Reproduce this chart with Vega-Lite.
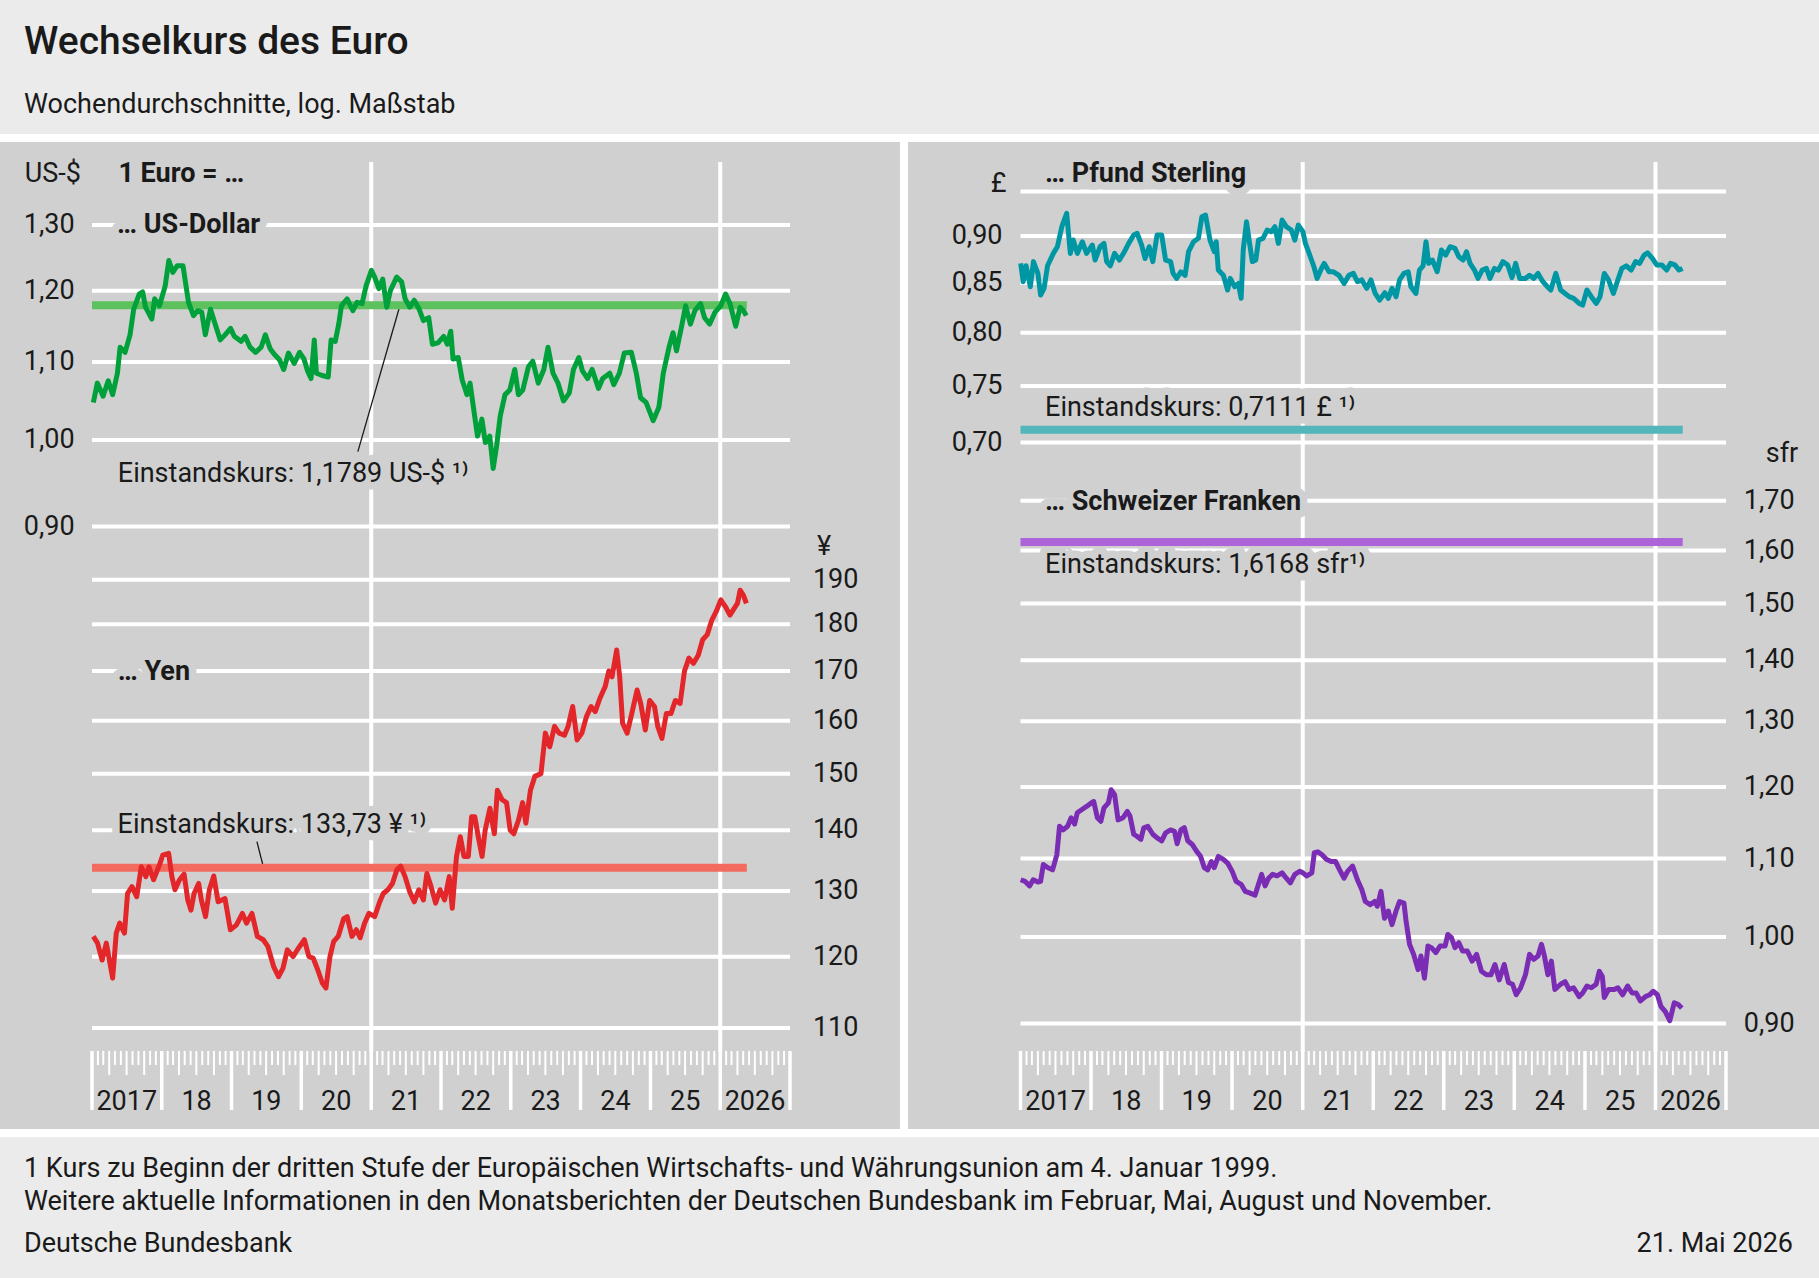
{
  "$schema": "https://vega.github.io/schema/vega-lite/v6.json",
  "background": "white",
  "padding": 0,
  "spacing": 8,
  "config": {"font": "Roboto", "view": {"stroke": null}},
  "datasets": {
    "usd": [
      {"datum": "2017-01-08", "kurs": 1.047}, {"datum": "2017-01-29", "kurs": 1.072}, {"datum": "2017-02-28", "kurs": 1.055}, {"datum": "2017-03-27", "kurs": 1.075},
      {"datum": "2017-04-19", "kurs": 1.057}, {"datum": "2017-05-14", "kurs": 1.085}, {"datum": "2017-05-28", "kurs": 1.12}, {"datum": "2017-06-23", "kurs": 1.113},
      {"datum": "2017-07-19", "kurs": 1.137}, {"datum": "2017-08-07", "kurs": 1.173}, {"datum": "2017-09-05", "kurs": 1.195}, {"datum": "2017-09-23", "kurs": 1.198},
      {"datum": "2017-10-08", "kurs": 1.176}, {"datum": "2017-11-10", "kurs": 1.159}, {"datum": "2017-11-25", "kurs": 1.188}, {"datum": "2017-12-20", "kurs": 1.178},
      {"datum": "2018-01-19", "kurs": 1.207}, {"datum": "2018-02-07", "kurs": 1.245}, {"datum": "2018-02-28", "kurs": 1.227}, {"datum": "2018-03-23", "kurs": 1.237},
      {"datum": "2018-04-22", "kurs": 1.237}, {"datum": "2018-05-21", "kurs": 1.183}, {"datum": "2018-06-16", "kurs": 1.164}, {"datum": "2018-07-08", "kurs": 1.171},
      {"datum": "2018-07-29", "kurs": 1.169}, {"datum": "2018-08-17", "kurs": 1.137}, {"datum": "2018-09-13", "kurs": 1.173}, {"datum": "2018-10-11", "kurs": 1.149},
      {"datum": "2018-11-03", "kurs": 1.13}, {"datum": "2018-11-28", "kurs": 1.137}, {"datum": "2018-12-27", "kurs": 1.146}, {"datum": "2019-01-15", "kurs": 1.135},
      {"datum": "2019-02-21", "kurs": 1.128}, {"datum": "2019-03-13", "kurs": 1.135}, {"datum": "2019-04-08", "kurs": 1.12}, {"datum": "2019-05-07", "kurs": 1.113},
      {"datum": "2019-06-05", "kurs": 1.12}, {"datum": "2019-06-27", "kurs": 1.137}, {"datum": "2019-07-22", "kurs": 1.118}, {"datum": "2019-08-14", "kurs": 1.11},
      {"datum": "2019-09-09", "kurs": 1.103}, {"datum": "2019-10-01", "kurs": 1.09}, {"datum": "2019-10-26", "kurs": 1.112}, {"datum": "2019-11-25", "kurs": 1.098},
      {"datum": "2019-12-23", "kurs": 1.113}, {"datum": "2020-01-15", "kurs": 1.104}, {"datum": "2020-02-03", "kurs": 1.088}, {"datum": "2020-02-21", "kurs": 1.078},
      {"datum": "2020-03-09", "kurs": 1.13}, {"datum": "2020-03-20", "kurs": 1.085}, {"datum": "2020-04-19", "kurs": 1.082}, {"datum": "2020-05-21", "kurs": 1.08},
      {"datum": "2020-06-05", "kurs": 1.13}, {"datum": "2020-06-27", "kurs": 1.128}, {"datum": "2020-07-15", "kurs": 1.152}, {"datum": "2020-07-29", "kurs": 1.178},
      {"datum": "2020-08-28", "kurs": 1.188}, {"datum": "2020-09-27", "kurs": 1.171}, {"datum": "2020-10-19", "kurs": 1.183}, {"datum": "2020-11-14", "kurs": 1.181},
      {"datum": "2020-12-05", "kurs": 1.207}, {"datum": "2021-01-02", "kurs": 1.23}, {"datum": "2021-01-19", "kurs": 1.22}, {"datum": "2021-02-10", "kurs": 1.203},
      {"datum": "2021-03-02", "kurs": 1.217}, {"datum": "2021-03-23", "kurs": 1.176}, {"datum": "2021-04-11", "kurs": 1.2}, {"datum": "2021-05-14", "kurs": 1.22},
      {"datum": "2021-06-09", "kurs": 1.213}, {"datum": "2021-06-27", "kurs": 1.188}, {"datum": "2021-07-22", "kurs": 1.176}, {"datum": "2021-08-14", "kurs": 1.186},
      {"datum": "2021-09-09", "kurs": 1.173}, {"datum": "2021-10-01", "kurs": 1.157}, {"datum": "2021-10-29", "kurs": 1.161}, {"datum": "2021-11-17", "kurs": 1.124},
      {"datum": "2021-12-16", "kurs": 1.126}, {"datum": "2022-01-15", "kurs": 1.135}, {"datum": "2022-02-03", "kurs": 1.124}, {"datum": "2022-02-21", "kurs": 1.142},
      {"datum": "2022-03-05", "kurs": 1.104}, {"datum": "2022-04-01", "kurs": 1.106}, {"datum": "2022-04-22", "kurs": 1.076}, {"datum": "2022-05-17", "kurs": 1.057},
      {"datum": "2022-06-02", "kurs": 1.072}, {"datum": "2022-06-16", "kurs": 1.047}, {"datum": "2022-07-11", "kurs": 1.005}, {"datum": "2022-08-03", "kurs": 1.026},
      {"datum": "2022-08-21", "kurs": 0.997}, {"datum": "2022-09-13", "kurs": 1.005}, {"datum": "2022-10-01", "kurs": 0.966}, {"datum": "2022-10-19", "kurs": 0.993},
      {"datum": "2022-11-07", "kurs": 1.03}, {"datum": "2022-12-02", "kurs": 1.057}, {"datum": "2022-12-27", "kurs": 1.063}, {"datum": "2023-01-22", "kurs": 1.09},
      {"datum": "2023-02-10", "kurs": 1.057}, {"datum": "2023-03-05", "kurs": 1.063}, {"datum": "2023-04-04", "kurs": 1.094}, {"datum": "2023-04-26", "kurs": 1.101},
      {"datum": "2023-05-25", "kurs": 1.072}, {"datum": "2023-06-23", "kurs": 1.09}, {"datum": "2023-07-15", "kurs": 1.12}, {"datum": "2023-08-10", "kurs": 1.085},
      {"datum": "2023-09-05", "kurs": 1.072}, {"datum": "2023-10-04", "kurs": 1.049}, {"datum": "2023-11-03", "kurs": 1.059}, {"datum": "2023-11-25", "kurs": 1.09},
      {"datum": "2023-12-23", "kurs": 1.106}, {"datum": "2024-01-11", "kurs": 1.088}, {"datum": "2024-02-07", "kurs": 1.078}, {"datum": "2024-03-02", "kurs": 1.09},
      {"datum": "2024-04-04", "kurs": 1.065}, {"datum": "2024-04-26", "kurs": 1.078}, {"datum": "2024-06-02", "kurs": 1.085}, {"datum": "2024-06-23", "kurs": 1.07},
      {"datum": "2024-07-22", "kurs": 1.085}, {"datum": "2024-08-17", "kurs": 1.112}, {"datum": "2024-09-23", "kurs": 1.113}, {"datum": "2024-10-19", "kurs": 1.085},
      {"datum": "2024-11-10", "kurs": 1.053}, {"datum": "2024-12-09", "kurs": 1.047}, {"datum": "2025-01-15", "kurs": 1.024}, {"datum": "2025-02-14", "kurs": 1.041},
      {"datum": "2025-03-09", "kurs": 1.085}, {"datum": "2025-04-08", "kurs": 1.12}, {"datum": "2025-04-29", "kurs": 1.14}, {"datum": "2025-05-17", "kurs": 1.115},
      {"datum": "2025-06-13", "kurs": 1.149}, {"datum": "2025-07-04", "kurs": 1.178}, {"datum": "2025-07-29", "kurs": 1.152}, {"datum": "2025-08-21", "kurs": 1.171},
      {"datum": "2025-09-20", "kurs": 1.181}, {"datum": "2025-10-11", "kurs": 1.161}, {"datum": "2025-11-07", "kurs": 1.152}, {"datum": "2025-12-05", "kurs": 1.169},
      {"datum": "2026-01-04", "kurs": 1.178}, {"datum": "2026-01-29", "kurs": 1.195}, {"datum": "2026-02-21", "kurs": 1.181}, {"datum": "2026-03-23", "kurs": 1.149},
      {"datum": "2026-04-15", "kurs": 1.176}, {"datum": "2026-05-03", "kurs": 1.171}, {"datum": "2026-05-17", "kurs": 1.164}
    ],
    "jpy": [
      {"datum": "2017-01-08", "kurs": 123.0}, {"datum": "2017-01-30", "kurs": 122.0}, {"datum": "2017-02-23", "kurs": 119.5}, {"datum": "2017-03-17", "kurs": 122.0},
      {"datum": "2017-04-19", "kurs": 116.9}, {"datum": "2017-05-08", "kurs": 123.5}, {"datum": "2017-05-26", "kurs": 125.0}, {"datum": "2017-06-20", "kurs": 123.5},
      {"datum": "2017-07-06", "kurs": 129.6}, {"datum": "2017-07-29", "kurs": 130.7}, {"datum": "2017-08-23", "kurs": 129.1}, {"datum": "2017-09-16", "kurs": 133.9},
      {"datum": "2017-10-10", "kurs": 132.3}, {"datum": "2017-10-26", "kurs": 133.9}, {"datum": "2017-11-19", "kurs": 131.8}, {"datum": "2017-12-20", "kurs": 134.2},
      {"datum": "2018-01-06", "kurs": 135.8}, {"datum": "2018-02-06", "kurs": 136.1}, {"datum": "2018-02-23", "kurs": 132.3}, {"datum": "2018-03-11", "kurs": 130.2},
      {"datum": "2018-04-04", "kurs": 131.8}, {"datum": "2018-04-28", "kurs": 132.7}, {"datum": "2018-05-17", "kurs": 128.6}, {"datum": "2018-06-03", "kurs": 127.0},
      {"datum": "2018-06-19", "kurs": 129.6}, {"datum": "2018-07-13", "kurs": 131.2}, {"datum": "2018-07-27", "kurs": 128.6}, {"datum": "2018-08-18", "kurs": 126.0},
      {"datum": "2018-09-07", "kurs": 130.2}, {"datum": "2018-09-30", "kurs": 132.4}, {"datum": "2018-10-23", "kurs": 128.3}, {"datum": "2018-11-28", "kurs": 128.8},
      {"datum": "2018-12-26", "kurs": 124.0}, {"datum": "2019-01-26", "kurs": 124.7}, {"datum": "2019-02-27", "kurs": 126.5}, {"datum": "2019-03-20", "kurs": 125.0},
      {"datum": "2019-04-18", "kurs": 126.5}, {"datum": "2019-05-16", "kurs": 123.0}, {"datum": "2019-06-16", "kurs": 122.5}, {"datum": "2019-07-10", "kurs": 121.5},
      {"datum": "2019-08-10", "kurs": 118.5}, {"datum": "2019-09-04", "kurs": 117.1}, {"datum": "2019-09-27", "kurs": 118.3}, {"datum": "2019-10-20", "kurs": 121.0},
      {"datum": "2019-11-19", "kurs": 120.0}, {"datum": "2019-12-16", "kurs": 121.2}, {"datum": "2020-01-17", "kurs": 122.5}, {"datum": "2020-02-10", "kurs": 120.0},
      {"datum": "2020-03-03", "kurs": 119.8}, {"datum": "2020-03-27", "kurs": 118.1}, {"datum": "2020-04-20", "kurs": 116.2}, {"datum": "2020-05-09", "kurs": 115.5},
      {"datum": "2020-05-30", "kurs": 120.0}, {"datum": "2020-06-18", "kurs": 122.2}, {"datum": "2020-07-12", "kurs": 123.0}, {"datum": "2020-08-10", "kurs": 125.7},
      {"datum": "2020-08-28", "kurs": 126.0}, {"datum": "2020-09-22", "kurs": 123.0}, {"datum": "2020-10-15", "kurs": 124.0}, {"datum": "2020-11-04", "kurs": 122.8},
      {"datum": "2020-11-27", "kurs": 125.0}, {"datum": "2020-12-20", "kurs": 126.5}, {"datum": "2021-01-19", "kurs": 126.0}, {"datum": "2021-02-12", "kurs": 128.1},
      {"datum": "2021-03-05", "kurs": 129.6}, {"datum": "2021-03-29", "kurs": 130.2}, {"datum": "2021-04-22", "kurs": 131.2}, {"datum": "2021-05-15", "kurs": 133.4},
      {"datum": "2021-06-04", "kurs": 134.0}, {"datum": "2021-06-27", "kurs": 132.3}, {"datum": "2021-07-21", "kurs": 129.9}, {"datum": "2021-08-14", "kurs": 128.3},
      {"datum": "2021-09-07", "kurs": 130.2}, {"datum": "2021-10-01", "kurs": 128.6}, {"datum": "2021-10-19", "kurs": 132.8}, {"datum": "2021-11-10", "kurs": 130.7},
      {"datum": "2021-12-04", "kurs": 128.1}, {"datum": "2021-12-27", "kurs": 130.2}, {"datum": "2022-01-20", "kurs": 128.6}, {"datum": "2022-02-13", "kurs": 132.3},
      {"datum": "2022-03-01", "kurs": 127.3}, {"datum": "2022-03-23", "kurs": 135.6}, {"datum": "2022-04-12", "kurs": 138.9}, {"datum": "2022-05-01", "kurs": 135.6},
      {"datum": "2022-05-24", "kurs": 135.6}, {"datum": "2022-06-10", "kurs": 142.3}, {"datum": "2022-06-27", "kurs": 142.3}, {"datum": "2022-07-15", "kurs": 138.9},
      {"datum": "2022-08-04", "kurs": 135.6}, {"datum": "2022-08-20", "kurs": 140.0}, {"datum": "2022-09-14", "kurs": 143.8}, {"datum": "2022-10-07", "kurs": 139.4},
      {"datum": "2022-10-23", "kurs": 147.0}, {"datum": "2022-11-17", "kurs": 145.3}, {"datum": "2022-12-10", "kurs": 144.8}, {"datum": "2022-12-29", "kurs": 140.0},
      {"datum": "2023-01-17", "kurs": 139.4}, {"datum": "2023-02-11", "kurs": 141.8}, {"datum": "2023-03-04", "kurs": 144.8}, {"datum": "2023-03-21", "kurs": 141.2},
      {"datum": "2023-04-14", "kurs": 147.0}, {"datum": "2023-05-07", "kurs": 149.5}, {"datum": "2023-06-08", "kurs": 150.0}, {"datum": "2023-07-01", "kurs": 157.6},
      {"datum": "2023-07-24", "kurs": 155.0}, {"datum": "2023-08-18", "kurs": 158.9}, {"datum": "2023-09-11", "kurs": 157.6}, {"datum": "2023-10-09", "kurs": 157.2},
      {"datum": "2023-10-28", "kurs": 158.9}, {"datum": "2023-11-21", "kurs": 162.8}, {"datum": "2023-12-14", "kurs": 156.3}, {"datum": "2024-01-08", "kurs": 157.6},
      {"datum": "2024-02-01", "kurs": 160.8}, {"datum": "2024-02-25", "kurs": 162.8}, {"datum": "2024-03-18", "kurs": 161.8}, {"datum": "2024-04-11", "kurs": 164.4},
      {"datum": "2024-05-09", "kurs": 166.8}, {"datum": "2024-05-28", "kurs": 170.0}, {"datum": "2024-06-14", "kurs": 168.8}, {"datum": "2024-07-08", "kurs": 174.4},
      {"datum": "2024-07-24", "kurs": 168.8}, {"datum": "2024-08-08", "kurs": 159.5}, {"datum": "2024-09-01", "kurs": 157.6}, {"datum": "2024-09-25", "kurs": 161.4},
      {"datum": "2024-10-23", "kurs": 166.1}, {"datum": "2024-11-11", "kurs": 163.4}, {"datum": "2024-12-05", "kurs": 158.2}, {"datum": "2024-12-28", "kurs": 164.0},
      {"datum": "2025-01-22", "kurs": 162.8}, {"datum": "2025-02-08", "kurs": 158.9}, {"datum": "2025-03-02", "kurs": 156.6}, {"datum": "2025-03-25", "kurs": 161.4},
      {"datum": "2025-04-18", "kurs": 161.4}, {"datum": "2025-05-11", "kurs": 164.0}, {"datum": "2025-06-05", "kurs": 163.4}, {"datum": "2025-06-28", "kurs": 170.0},
      {"datum": "2025-07-21", "kurs": 172.7}, {"datum": "2025-08-14", "kurs": 171.6}, {"datum": "2025-09-08", "kurs": 173.3}, {"datum": "2025-10-01", "kurs": 176.6},
      {"datum": "2025-10-25", "kurs": 177.7}, {"datum": "2025-11-18", "kurs": 180.9}, {"datum": "2025-12-11", "kurs": 182.8}, {"datum": "2026-01-04", "kurs": 185.4},
      {"datum": "2026-01-28", "kurs": 183.9}, {"datum": "2026-02-21", "kurs": 182.0}, {"datum": "2026-03-15", "kurs": 183.5}, {"datum": "2026-04-01", "kurs": 184.6},
      {"datum": "2026-04-15", "kurs": 187.6}, {"datum": "2026-05-02", "kurs": 186.5}, {"datum": "2026-05-18", "kurs": 184.6}
    ],
    "gbp": [
      {"datum": "2017-01-02", "kurs": 0.8706}, {"datum": "2017-01-15", "kurs": 0.8514}, {"datum": "2017-01-30", "kurs": 0.868}, {"datum": "2017-02-21", "kurs": 0.8462},
      {"datum": "2017-03-09", "kurs": 0.8724}, {"datum": "2017-04-01", "kurs": 0.86}, {"datum": "2017-04-15", "kurs": 0.8377}, {"datum": "2017-05-03", "kurs": 0.8445},
      {"datum": "2017-05-21", "kurs": 0.868}, {"datum": "2017-06-20", "kurs": 0.8812}, {"datum": "2017-07-11", "kurs": 0.8884}, {"datum": "2017-08-03", "kurs": 0.9103},
      {"datum": "2017-08-28", "kurs": 0.9252}, {"datum": "2017-09-16", "kurs": 0.8812}, {"datum": "2017-10-01", "kurs": 0.8956}, {"datum": "2017-10-22", "kurs": 0.8812},
      {"datum": "2017-11-17", "kurs": 0.8938}, {"datum": "2017-12-09", "kurs": 0.8812}, {"datum": "2018-01-08", "kurs": 0.8902}, {"datum": "2018-01-22", "kurs": 0.8741},
      {"datum": "2018-02-17", "kurs": 0.8884}, {"datum": "2018-03-09", "kurs": 0.892}, {"datum": "2018-03-23", "kurs": 0.8724}, {"datum": "2018-04-11", "kurs": 0.868},
      {"datum": "2018-05-03", "kurs": 0.8812}, {"datum": "2018-05-28", "kurs": 0.8741}, {"datum": "2018-06-23", "kurs": 0.883}, {"datum": "2018-07-15", "kurs": 0.892},
      {"datum": "2018-08-10", "kurs": 0.9011}, {"datum": "2018-08-28", "kurs": 0.903}, {"datum": "2018-09-20", "kurs": 0.8902}, {"datum": "2018-10-08", "kurs": 0.8757},
      {"datum": "2018-10-29", "kurs": 0.8884}, {"datum": "2018-11-17", "kurs": 0.8724}, {"datum": "2018-12-09", "kurs": 0.9011}, {"datum": "2019-01-02", "kurs": 0.9011},
      {"datum": "2019-01-22", "kurs": 0.8741}, {"datum": "2019-02-17", "kurs": 0.8724}, {"datum": "2019-03-02", "kurs": 0.86}, {"datum": "2019-03-20", "kurs": 0.8548},
      {"datum": "2019-04-11", "kurs": 0.8617}, {"datum": "2019-05-03", "kurs": 0.858}, {"datum": "2019-05-21", "kurs": 0.883}, {"datum": "2019-06-16", "kurs": 0.8938},
      {"datum": "2019-07-11", "kurs": 0.8975}, {"datum": "2019-07-29", "kurs": 0.9214}, {"datum": "2019-08-17", "kurs": 0.9232}, {"datum": "2019-09-09", "kurs": 0.8956},
      {"datum": "2019-10-01", "kurs": 0.883}, {"datum": "2019-10-11", "kurs": 0.8938}, {"datum": "2019-10-22", "kurs": 0.8635}, {"datum": "2019-11-17", "kurs": 0.858},
      {"datum": "2019-12-09", "kurs": 0.8428}, {"datum": "2019-12-23", "kurs": 0.8548}, {"datum": "2020-01-15", "kurs": 0.8462}, {"datum": "2020-02-03", "kurs": 0.8495},
      {"datum": "2020-02-17", "kurs": 0.8343}, {"datum": "2020-02-28", "kurs": 0.885}, {"datum": "2020-03-16", "kurs": 0.9158}, {"datum": "2020-04-01", "kurs": 0.892},
      {"datum": "2020-04-15", "kurs": 0.8724}, {"datum": "2020-05-03", "kurs": 0.8741}, {"datum": "2020-05-17", "kurs": 0.8956}, {"datum": "2020-06-09", "kurs": 0.8975},
      {"datum": "2020-07-01", "kurs": 0.9066}, {"datum": "2020-07-22", "kurs": 0.9048}, {"datum": "2020-08-10", "kurs": 0.9103}, {"datum": "2020-08-28", "kurs": 0.892},
      {"datum": "2020-09-16", "kurs": 0.9177}, {"datum": "2020-10-08", "kurs": 0.9103}, {"datum": "2020-11-03", "kurs": 0.9066}, {"datum": "2020-11-21", "kurs": 0.8956},
      {"datum": "2020-12-09", "kurs": 0.912}, {"datum": "2021-01-02", "kurs": 0.9048}, {"datum": "2021-01-15", "kurs": 0.892}, {"datum": "2021-02-03", "kurs": 0.8812},
      {"datum": "2021-02-28", "kurs": 0.867}, {"datum": "2021-03-16", "kurs": 0.8548}, {"datum": "2021-04-08", "kurs": 0.8652}, {"datum": "2021-04-22", "kurs": 0.8706},
      {"datum": "2021-05-17", "kurs": 0.8617}, {"datum": "2021-06-09", "kurs": 0.8617}, {"datum": "2021-07-08", "kurs": 0.858}, {"datum": "2021-08-03", "kurs": 0.8495},
      {"datum": "2021-08-28", "kurs": 0.858}, {"datum": "2021-09-20", "kurs": 0.86}, {"datum": "2021-10-11", "kurs": 0.8514}, {"datum": "2021-11-03", "kurs": 0.8532},
      {"datum": "2021-11-28", "kurs": 0.8445}, {"datum": "2021-12-20", "kurs": 0.8532}, {"datum": "2022-01-11", "kurs": 0.8393}, {"datum": "2022-02-03", "kurs": 0.8325},
      {"datum": "2022-03-02", "kurs": 0.84}, {"datum": "2022-03-20", "kurs": 0.8343}, {"datum": "2022-04-08", "kurs": 0.8445}, {"datum": "2022-04-29", "kurs": 0.836},
      {"datum": "2022-05-17", "kurs": 0.8532}, {"datum": "2022-06-09", "kurs": 0.86}, {"datum": "2022-07-01", "kurs": 0.8617}, {"datum": "2022-07-15", "kurs": 0.8462},
      {"datum": "2022-08-10", "kurs": 0.8393}, {"datum": "2022-08-28", "kurs": 0.8635}, {"datum": "2022-09-16", "kurs": 0.868}, {"datum": "2022-10-01", "kurs": 0.8938},
      {"datum": "2022-10-15", "kurs": 0.8706}, {"datum": "2022-11-03", "kurs": 0.8741}, {"datum": "2022-11-28", "kurs": 0.8617}, {"datum": "2022-12-20", "kurs": 0.8848},
      {"datum": "2023-01-11", "kurs": 0.8794}, {"datum": "2023-02-03", "kurs": 0.8884}, {"datum": "2023-02-28", "kurs": 0.8866}, {"datum": "2023-03-20", "kurs": 0.8776},
      {"datum": "2023-04-11", "kurs": 0.8741}, {"datum": "2023-04-29", "kurs": 0.883}, {"datum": "2023-05-17", "kurs": 0.8706}, {"datum": "2023-06-09", "kurs": 0.8635},
      {"datum": "2023-06-27", "kurs": 0.8548}, {"datum": "2023-07-19", "kurs": 0.8635}, {"datum": "2023-08-10", "kurs": 0.8652}, {"datum": "2023-08-28", "kurs": 0.8548},
      {"datum": "2023-09-20", "kurs": 0.8652}, {"datum": "2023-10-11", "kurs": 0.8635}, {"datum": "2023-11-03", "kurs": 0.8724}, {"datum": "2023-11-28", "kurs": 0.8688},
      {"datum": "2023-12-20", "kurs": 0.8556}, {"datum": "2024-01-08", "kurs": 0.8706}, {"datum": "2024-01-29", "kurs": 0.8548}, {"datum": "2024-02-28", "kurs": 0.8548},
      {"datum": "2024-03-20", "kurs": 0.858}, {"datum": "2024-04-11", "kurs": 0.8548}, {"datum": "2024-05-03", "kurs": 0.86}, {"datum": "2024-05-28", "kurs": 0.8514},
      {"datum": "2024-06-20", "kurs": 0.8462}, {"datum": "2024-07-08", "kurs": 0.8428}, {"datum": "2024-08-03", "kurs": 0.86}, {"datum": "2024-08-28", "kurs": 0.8428},
      {"datum": "2024-09-20", "kurs": 0.8393}, {"datum": "2024-10-11", "kurs": 0.836}, {"datum": "2024-11-03", "kurs": 0.8343}, {"datum": "2024-12-02", "kurs": 0.8292},
      {"datum": "2024-12-20", "kurs": 0.8275}, {"datum": "2025-01-11", "kurs": 0.8428}, {"datum": "2025-02-03", "kurs": 0.836}, {"datum": "2025-02-28", "kurs": 0.8292},
      {"datum": "2025-03-20", "kurs": 0.836}, {"datum": "2025-04-11", "kurs": 0.86}, {"datum": "2025-05-03", "kurs": 0.8532}, {"datum": "2025-05-28", "kurs": 0.8393},
      {"datum": "2025-06-20", "kurs": 0.8532}, {"datum": "2025-07-11", "kurs": 0.8652}, {"datum": "2025-08-03", "kurs": 0.868}, {"datum": "2025-08-28", "kurs": 0.8635},
      {"datum": "2025-09-20", "kurs": 0.8724}, {"datum": "2025-10-11", "kurs": 0.8706}, {"datum": "2025-11-03", "kurs": 0.8794}, {"datum": "2025-11-21", "kurs": 0.8818},
      {"datum": "2025-12-16", "kurs": 0.8758}, {"datum": "2026-01-08", "kurs": 0.8688}, {"datum": "2026-02-03", "kurs": 0.8688}, {"datum": "2026-02-28", "kurs": 0.8635},
      {"datum": "2026-03-20", "kurs": 0.8706}, {"datum": "2026-04-11", "kurs": 0.869}, {"datum": "2026-05-03", "kurs": 0.8635}, {"datum": "2026-05-21", "kurs": 0.8652}
    ],
    "chf": [
      {"datum": "2017-01-02", "kurs": 1.072}, {"datum": "2017-01-24", "kurs": 1.07}, {"datum": "2017-02-17", "kurs": 1.064}, {"datum": "2017-03-08", "kurs": 1.072},
      {"datum": "2017-04-01", "kurs": 1.069}, {"datum": "2017-04-15", "kurs": 1.07}, {"datum": "2017-04-29", "kurs": 1.092}, {"datum": "2017-05-21", "kurs": 1.088},
      {"datum": "2017-06-16", "kurs": 1.085}, {"datum": "2017-07-08", "kurs": 1.105}, {"datum": "2017-07-22", "kurs": 1.144}, {"datum": "2017-08-10", "kurs": 1.139},
      {"datum": "2017-09-02", "kurs": 1.144}, {"datum": "2017-09-20", "kurs": 1.156}, {"datum": "2017-10-08", "kurs": 1.147}, {"datum": "2017-10-22", "kurs": 1.163},
      {"datum": "2017-11-17", "kurs": 1.168}, {"datum": "2017-12-09", "kurs": 1.172}, {"datum": "2018-01-02", "kurs": 1.177}, {"datum": "2018-01-15", "kurs": 1.179},
      {"datum": "2018-02-03", "kurs": 1.156}, {"datum": "2018-02-21", "kurs": 1.151}, {"datum": "2018-03-09", "kurs": 1.17}, {"datum": "2018-04-01", "kurs": 1.177},
      {"datum": "2018-04-15", "kurs": 1.196}, {"datum": "2018-05-03", "kurs": 1.189}, {"datum": "2018-05-21", "kurs": 1.153}, {"datum": "2018-06-16", "kurs": 1.156},
      {"datum": "2018-07-08", "kurs": 1.165}, {"datum": "2018-07-22", "kurs": 1.158}, {"datum": "2018-08-10", "kurs": 1.133}, {"datum": "2018-08-28", "kurs": 1.13},
      {"datum": "2018-09-16", "kurs": 1.126}, {"datum": "2018-10-01", "kurs": 1.142}, {"datum": "2018-10-22", "kurs": 1.144}, {"datum": "2018-11-17", "kurs": 1.133},
      {"datum": "2018-12-09", "kurs": 1.128}, {"datum": "2019-01-02", "kurs": 1.124}, {"datum": "2019-01-22", "kurs": 1.135}, {"datum": "2019-02-17", "kurs": 1.139},
      {"datum": "2019-03-09", "kurs": 1.137}, {"datum": "2019-03-23", "kurs": 1.12}, {"datum": "2019-04-11", "kurs": 1.139}, {"datum": "2019-04-29", "kurs": 1.142},
      {"datum": "2019-05-17", "kurs": 1.124}, {"datum": "2019-06-09", "kurs": 1.119}, {"datum": "2019-07-01", "kurs": 1.11}, {"datum": "2019-07-22", "kurs": 1.103},
      {"datum": "2019-08-10", "kurs": 1.088}, {"datum": "2019-08-28", "kurs": 1.085}, {"datum": "2019-09-16", "kurs": 1.096}, {"datum": "2019-10-01", "kurs": 1.088},
      {"datum": "2019-10-22", "kurs": 1.103}, {"datum": "2019-11-17", "kurs": 1.099}, {"datum": "2019-12-09", "kurs": 1.094}, {"datum": "2020-01-02", "kurs": 1.083},
      {"datum": "2020-01-22", "kurs": 1.07}, {"datum": "2020-02-17", "kurs": 1.066}, {"datum": "2020-03-09", "kurs": 1.057}, {"datum": "2020-04-01", "kurs": 1.055},
      {"datum": "2020-04-29", "kurs": 1.052}, {"datum": "2020-05-17", "kurs": 1.066}, {"datum": "2020-06-02", "kurs": 1.079}, {"datum": "2020-06-20", "kurs": 1.064},
      {"datum": "2020-07-08", "kurs": 1.074}, {"datum": "2020-07-29", "kurs": 1.079}, {"datum": "2020-08-21", "kurs": 1.077}, {"datum": "2020-09-16", "kurs": 1.081},
      {"datum": "2020-10-08", "kurs": 1.074}, {"datum": "2020-10-29", "kurs": 1.068}, {"datum": "2020-11-21", "kurs": 1.079}, {"datum": "2020-12-16", "kurs": 1.083},
      {"datum": "2021-01-02", "kurs": 1.081}, {"datum": "2021-01-22", "kurs": 1.077}, {"datum": "2021-02-17", "kurs": 1.081}, {"datum": "2021-03-02", "kurs": 1.108},
      {"datum": "2021-03-20", "kurs": 1.109}, {"datum": "2021-04-11", "kurs": 1.105}, {"datum": "2021-05-03", "kurs": 1.099}, {"datum": "2021-05-28", "kurs": 1.096},
      {"datum": "2021-06-20", "kurs": 1.096}, {"datum": "2021-07-11", "kurs": 1.085}, {"datum": "2021-08-03", "kurs": 1.074}, {"datum": "2021-08-21", "kurs": 1.083},
      {"datum": "2021-09-16", "kurs": 1.09}, {"datum": "2021-10-11", "kurs": 1.072}, {"datum": "2021-11-03", "kurs": 1.059}, {"datum": "2021-11-21", "kurs": 1.044},
      {"datum": "2021-12-16", "kurs": 1.04}, {"datum": "2022-01-08", "kurs": 1.044}, {"datum": "2022-01-22", "kurs": 1.038}, {"datum": "2022-02-10", "kurs": 1.057},
      {"datum": "2022-02-28", "kurs": 1.023}, {"datum": "2022-03-20", "kurs": 1.032}, {"datum": "2022-04-08", "kurs": 1.015}, {"datum": "2022-04-29", "kurs": 1.032},
      {"datum": "2022-05-17", "kurs": 1.044}, {"datum": "2022-06-09", "kurs": 1.042}, {"datum": "2022-06-20", "kurs": 1.019}, {"datum": "2022-07-08", "kurs": 0.991},
      {"datum": "2022-07-29", "kurs": 0.979}, {"datum": "2022-08-21", "kurs": 0.961}, {"datum": "2022-09-05", "kurs": 0.977}, {"datum": "2022-09-23", "kurs": 0.951},
      {"datum": "2022-10-11", "kurs": 0.989}, {"datum": "2022-10-29", "kurs": 0.987}, {"datum": "2022-11-21", "kurs": 0.981}, {"datum": "2022-12-13", "kurs": 0.989},
      {"datum": "2023-01-08", "kurs": 0.989}, {"datum": "2023-01-22", "kurs": 1.003}, {"datum": "2023-02-10", "kurs": 0.999}, {"datum": "2023-02-28", "kurs": 0.987},
      {"datum": "2023-03-20", "kurs": 0.993}, {"datum": "2023-04-08", "kurs": 0.983}, {"datum": "2023-05-03", "kurs": 0.983}, {"datum": "2023-05-28", "kurs": 0.971},
      {"datum": "2023-06-20", "kurs": 0.979}, {"datum": "2023-07-15", "kurs": 0.959}, {"datum": "2023-08-10", "kurs": 0.955}, {"datum": "2023-09-02", "kurs": 0.955},
      {"datum": "2023-09-23", "kurs": 0.967}, {"datum": "2023-10-15", "kurs": 0.949}, {"datum": "2023-11-10", "kurs": 0.967}, {"datum": "2023-12-02", "kurs": 0.946},
      {"datum": "2023-12-23", "kurs": 0.944}, {"datum": "2024-01-11", "kurs": 0.932}, {"datum": "2024-02-03", "kurs": 0.94}, {"datum": "2024-02-28", "kurs": 0.955},
      {"datum": "2024-03-20", "kurs": 0.979}, {"datum": "2024-04-11", "kurs": 0.973}, {"datum": "2024-05-03", "kurs": 0.977}, {"datum": "2024-05-21", "kurs": 0.991},
      {"datum": "2024-06-05", "kurs": 0.977}, {"datum": "2024-06-23", "kurs": 0.955}, {"datum": "2024-07-11", "kurs": 0.971}, {"datum": "2024-07-29", "kurs": 0.938},
      {"datum": "2024-08-28", "kurs": 0.944}, {"datum": "2024-09-20", "kurs": 0.947}, {"datum": "2024-10-11", "kurs": 0.938}, {"datum": "2024-11-03", "kurs": 0.94},
      {"datum": "2024-12-02", "kurs": 0.93}, {"datum": "2024-12-20", "kurs": 0.934}, {"datum": "2025-01-11", "kurs": 0.942}, {"datum": "2025-02-03", "kurs": 0.94},
      {"datum": "2025-02-28", "kurs": 0.944}, {"datum": "2025-03-16", "kurs": 0.959}, {"datum": "2025-04-01", "kurs": 0.953}, {"datum": "2025-04-11", "kurs": 0.929},
      {"datum": "2025-05-03", "kurs": 0.938}, {"datum": "2025-06-02", "kurs": 0.938}, {"datum": "2025-06-20", "kurs": 0.94}, {"datum": "2025-07-15", "kurs": 0.932},
      {"datum": "2025-08-10", "kurs": 0.942}, {"datum": "2025-09-02", "kurs": 0.934}, {"datum": "2025-09-23", "kurs": 0.934}, {"datum": "2025-10-15", "kurs": 0.925},
      {"datum": "2025-11-10", "kurs": 0.93}, {"datum": "2025-12-02", "kurs": 0.932}, {"datum": "2025-12-20", "kurs": 0.936}, {"datum": "2026-01-11", "kurs": 0.932},
      {"datum": "2026-01-29", "kurs": 0.919}, {"datum": "2026-02-21", "kurs": 0.913}, {"datum": "2026-03-16", "kurs": 0.903}, {"datum": "2026-04-08", "kurs": 0.923},
      {"datum": "2026-04-29", "kurs": 0.921}, {"datum": "2026-05-17", "kurs": 0.917}
    ],
    "gitter_usd": [{"kurs": 0.9, "text": "0,90"}, {"kurs": 1.0, "text": "1,00"}, {"kurs": 1.1, "text": "1,10"}, {"kurs": 1.2, "text": "1,20"}, {"kurs": 1.3, "text": "1,30"}],
    "gitter_jpy": [{"kurs": 110, "text": "110"}, {"kurs": 120, "text": "120"}, {"kurs": 130, "text": "130"}, {"kurs": 140, "text": "140"}, {"kurs": 150, "text": "150"}, {"kurs": 160, "text": "160"}, {"kurs": 170, "text": "170"}, {"kurs": 180, "text": "180"}, {"kurs": 190, "text": "190"}],
    "gitter_gbp": [{"kurs": 0.7, "text": "0,70"}, {"kurs": 0.75, "text": "0,75"}, {"kurs": 0.8, "text": "0,80"}, {"kurs": 0.85, "text": "0,85"}, {"kurs": 0.9, "text": "0,90"}, {"kurs": 0.95, "text": ""}],
    "gitter_chf": [{"kurs": 0.9, "text": "0,90"}, {"kurs": 1.0, "text": "1,00"}, {"kurs": 1.1, "text": "1,10"}, {"kurs": 1.2, "text": "1,20"}, {"kurs": 1.3, "text": "1,30"}, {"kurs": 1.4, "text": "1,40"}, {"kurs": 1.5, "text": "1,50"}, {"kurs": 1.6, "text": "1,60"}, {"kurs": 1.7, "text": "1,70"}],
    "jahre": [
      {"datum": "2017-01-01"}, {"datum": "2018-01-01"}, {"datum": "2019-01-01"}, {"datum": "2020-01-01"}, {"datum": "2021-01-01"}, {"datum": "2022-01-01"},
      {"datum": "2023-01-01"}, {"datum": "2024-01-01"}, {"datum": "2025-01-01"}, {"datum": "2026-01-01"}, {"datum": "2027-01-01"}
    ],
    "quartale": [
      {"datum": "2017-04-01"}, {"datum": "2017-07-01"}, {"datum": "2017-10-01"}, {"datum": "2018-04-01"}, {"datum": "2018-07-01"}, {"datum": "2018-10-01"},
      {"datum": "2019-04-01"}, {"datum": "2019-07-01"}, {"datum": "2019-10-01"}, {"datum": "2020-04-01"}, {"datum": "2020-07-01"}, {"datum": "2020-10-01"},
      {"datum": "2021-04-01"}, {"datum": "2021-07-01"}, {"datum": "2021-10-01"}, {"datum": "2022-04-01"}, {"datum": "2022-07-01"}, {"datum": "2022-10-01"},
      {"datum": "2023-04-01"}, {"datum": "2023-07-01"}, {"datum": "2023-10-01"}, {"datum": "2024-04-01"}, {"datum": "2024-07-01"}, {"datum": "2024-10-01"},
      {"datum": "2025-04-01"}, {"datum": "2025-07-01"}, {"datum": "2025-10-01"}, {"datum": "2026-04-01"}, {"datum": "2026-07-01"}, {"datum": "2026-10-01"}
    ],
    "monate": [
      {"datum": "2017-02-01"}, {"datum": "2017-03-01"}, {"datum": "2017-05-01"}, {"datum": "2017-06-01"}, {"datum": "2017-08-01"}, {"datum": "2017-09-01"}, {"datum": "2017-11-01"}, {"datum": "2017-12-01"},
      {"datum": "2018-02-01"}, {"datum": "2018-03-01"}, {"datum": "2018-05-01"}, {"datum": "2018-06-01"}, {"datum": "2018-08-01"}, {"datum": "2018-09-01"}, {"datum": "2018-11-01"}, {"datum": "2018-12-01"},
      {"datum": "2019-02-01"}, {"datum": "2019-03-01"}, {"datum": "2019-05-01"}, {"datum": "2019-06-01"}, {"datum": "2019-08-01"}, {"datum": "2019-09-01"}, {"datum": "2019-11-01"}, {"datum": "2019-12-01"},
      {"datum": "2020-02-01"}, {"datum": "2020-03-01"}, {"datum": "2020-05-01"}, {"datum": "2020-06-01"}, {"datum": "2020-08-01"}, {"datum": "2020-09-01"}, {"datum": "2020-11-01"}, {"datum": "2020-12-01"},
      {"datum": "2021-02-01"}, {"datum": "2021-03-01"}, {"datum": "2021-05-01"}, {"datum": "2021-06-01"}, {"datum": "2021-08-01"}, {"datum": "2021-09-01"}, {"datum": "2021-11-01"}, {"datum": "2021-12-01"},
      {"datum": "2022-02-01"}, {"datum": "2022-03-01"}, {"datum": "2022-05-01"}, {"datum": "2022-06-01"}, {"datum": "2022-08-01"}, {"datum": "2022-09-01"}, {"datum": "2022-11-01"}, {"datum": "2022-12-01"},
      {"datum": "2023-02-01"}, {"datum": "2023-03-01"}, {"datum": "2023-05-01"}, {"datum": "2023-06-01"}, {"datum": "2023-08-01"}, {"datum": "2023-09-01"}, {"datum": "2023-11-01"}, {"datum": "2023-12-01"},
      {"datum": "2024-02-01"}, {"datum": "2024-03-01"}, {"datum": "2024-05-01"}, {"datum": "2024-06-01"}, {"datum": "2024-08-01"}, {"datum": "2024-09-01"}, {"datum": "2024-11-01"}, {"datum": "2024-12-01"},
      {"datum": "2025-02-01"}, {"datum": "2025-03-01"}, {"datum": "2025-05-01"}, {"datum": "2025-06-01"}, {"datum": "2025-08-01"}, {"datum": "2025-09-01"}, {"datum": "2025-11-01"}, {"datum": "2025-12-01"},
      {"datum": "2026-02-01"}, {"datum": "2026-03-01"}, {"datum": "2026-05-01"}, {"datum": "2026-06-01"}, {"datum": "2026-08-01"}, {"datum": "2026-09-01"}, {"datum": "2026-11-01"}, {"datum": "2026-12-01"}
    ],
    "jahrlabels": [
      {"datum": "2017-07-02", "text": "2017"}, {"datum": "2018-07-02", "text": "18"}, {"datum": "2019-07-02", "text": "19"}, {"datum": "2020-07-02", "text": "20"},
      {"datum": "2021-07-02", "text": "21"}, {"datum": "2022-07-02", "text": "22"}, {"datum": "2023-07-02", "text": "23"}, {"datum": "2024-07-02", "text": "24"},
      {"datum": "2025-07-02", "text": "25"}, {"datum": "2026-07-02", "text": "2026"}
    ],
    "notiz_usd": [
      {"text": "US-$", "datum": "2016-01-15", "kurs": 1.37, "art": "normal"},
      {"text": "1 Euro = …", "datum": "2017-05-19", "kurs": 1.37, "art": "fett"},
      {"text": "… US-Dollar", "datum": "2017-05-12", "kurs": 1.2869, "art": "fett"},
      {"text": "Einstandskurs: 1,1789 US-$ ¹⁾", "datum": "2017-05-16", "kurs": 0.9506, "art": "normal"}
    ],
    "notiz_jpy": [
      {"text": "¥", "datum": "2027-05-22", "kurs": 195.85, "art": "normal"},
      {"text": "… Yen", "datum": "2017-05-16", "kurs": 168.16, "art": "fett"},
      {"text": "Einstandskurs: 133,73 ¥ ¹⁾", "datum": "2017-05-15", "kurs": 139.48, "art": "normal"}
    ],
    "notiz_gbp": [
      {"text": "£", "datum": "2016-07-31", "kurs": 0.95, "art": "normal"},
      {"text": "… Pfund Sterling", "datum": "2017-05-08", "kurs": 0.96146, "art": "fett"},
      {"text": "Einstandskurs: 0,7111 £ ¹⁾", "datum": "2017-05-08", "kurs": 0.72301, "art": "normal"}
    ],
    "notiz_chf": [
      {"text": "sfr", "datum": "2027-07-26", "kurs": 1.78259, "art": "normal"},
      {"text": "… Schweizer Franken", "datum": "2017-05-08", "kurs": 1.68088, "art": "fett"},
      {"text": "Einstandskurs: 1,6168 sfr¹⁾", "datum": "2017-05-08", "kurs": 1.55684, "art": "normal"}
    ]
  },
  "vconcat": [
    {
      "width": 1819,
      "height": 134,
      "view": {"fill": "#ebebeb", "stroke": null},
      "data": {"values": [{}]},
      "mark": {"type": "text", "text": ""},
      "title": {
        "text": "Wechselkurs des Euro",
        "subtitle": "Wochendurchschnitte, log. Maßstab",
        "anchor": "start", "frame": "group", "orient": "top",
        "offset": -118, "dx": 24,
        "fontSize": 39, "fontWeight": 500, "color": "#1a1a1a",
        "subtitleFontSize": 27, "subtitleColor": "#1a1a1a", "subtitlePadding": 30
      }
    },
    {
      "hconcat": [
        {
          "width": 900,
          "height": 987,
          "view": {"fill": "#d0d0d0", "stroke": null},
          "resolve": {"scale": {"y": "independent"}},
          "layer": [
            {
              "layer": [
                {
                  "data": {"name": "gitter_usd"},
                  "mark": {"type": "rule", "color": "white", "strokeWidth": 4},
                  "encoding": {
                    "x": {"datum": {"year": 2017, "month": 1, "date": 1}, "type": "temporal", "scale": {"type": "time", "domain": [{"year": 2017, "month": 1, "date": 1}, {"year": 2027, "month": 1, "date": 1}], "range": [92, 790], "nice": false}, "axis": null},
                    "x2": {"datum": {"year": 2027, "month": 1, "date": 1}},
                    "y": {"field": "kurs", "type": "quantitative", "scale": {"type": "log", "domain": [0.9, 1.3], "range": [384.5, 83], "nice": false, "zero": false}, "axis": null}
                  }
                },
                {
                  "data": {"values": [{"datum": "2021-01-01"}, {"datum": "2026-01-01"}]},
                  "mark": {"type": "rule", "color": "white", "strokeWidth": 4},
                  "encoding": {
                    "x": {"field": "datum", "type": "temporal", "scale": {"type": "time", "domain": [{"year": 2017, "month": 1, "date": 1}, {"year": 2027, "month": 1, "date": 1}], "range": [92, 790], "nice": false}, "axis": null},
                    "y": {"datum": 1.40382, "type": "quantitative", "scale": {"type": "log", "domain": [0.9, 1.3], "range": [384.5, 83], "nice": false, "zero": false}, "axis": null},
                    "y2": {"datum": 0.47416}
                  }
                },
                {
                  "data": {"name": "monate"},
                  "mark": {"type": "rule", "color": "white", "strokeWidth": 2},
                  "encoding": {
                    "x": {"field": "datum", "type": "temporal", "scale": {"type": "time", "domain": [{"year": 2017, "month": 1, "date": 1}, {"year": 2027, "month": 1, "date": 1}], "range": [92, 790], "nice": false}, "axis": null},
                    "y": {"datum": 0.47473, "type": "quantitative", "scale": {"type": "log", "domain": [0.9, 1.3], "range": [384.5, 83], "nice": false, "zero": false}, "axis": null},
                    "y2": {"datum": 0.46669}
                  }
                },
                {
                  "data": {"name": "quartale"},
                  "mark": {"type": "rule", "color": "white", "strokeWidth": 2},
                  "encoding": {
                    "x": {"field": "datum", "type": "temporal", "scale": {"type": "time", "domain": [{"year": 2017, "month": 1, "date": 1}, {"year": 2027, "month": 1, "date": 1}], "range": [92, 790], "nice": false}, "axis": null},
                    "y": {"datum": 0.47473, "type": "quantitative", "scale": {"type": "log", "domain": [0.9, 1.3], "range": [384.5, 83], "nice": false, "zero": false}, "axis": null},
                    "y2": {"datum": 0.46103}
                  }
                },
                {
                  "data": {"name": "jahre"},
                  "mark": {"type": "rule", "color": "white", "strokeWidth": 3.5},
                  "encoding": {
                    "x": {"field": "datum", "type": "temporal", "scale": {"type": "time", "domain": [{"year": 2017, "month": 1, "date": 1}, {"year": 2027, "month": 1, "date": 1}], "range": [92, 790], "nice": false}, "axis": null},
                    "y": {"datum": 0.47473, "type": "quantitative", "scale": {"type": "log", "domain": [0.9, 1.3], "range": [384.5, 83], "nice": false, "zero": false}, "axis": null},
                    "y2": {"datum": 0.44177}
                  }
                },
                {
                  "data": {"name": "gitter_usd"},
                  "mark": {"type": "text", "align": "right", "baseline": "middle", "fontSize": 27, "color": "#1a1a1a"},
                  "encoding": {
                    "x": {"datum": {"year": 2016, "month": 10, "date": 2}, "type": "temporal", "scale": {"type": "time", "domain": [{"year": 2017, "month": 1, "date": 1}, {"year": 2027, "month": 1, "date": 1}], "range": [92, 790], "nice": false}, "axis": null},
                    "y": {"field": "kurs", "type": "quantitative", "scale": {"type": "log", "domain": [0.9, 1.3], "range": [384.5, 83], "nice": false, "zero": false}, "axis": null},
                    "text": {"field": "text"}
                  }
                },
                {
                  "data": {"name": "jahrlabels"},
                  "mark": {"type": "text", "align": "center", "baseline": "alphabetic", "fontSize": 27, "color": "#1a1a1a"},
                  "encoding": {
                    "x": {"field": "datum", "type": "temporal", "scale": {"type": "time", "domain": [{"year": 2017, "month": 1, "date": 1}, {"year": 2027, "month": 1, "date": 1}], "range": [92, 790], "nice": false}, "axis": null},
                    "y": {"datum": 0.44177, "type": "quantitative", "scale": {"type": "log", "domain": [0.9, 1.3], "range": [384.5, 83], "nice": false, "zero": false}, "axis": null},
                    "text": {"field": "text"}
                  }
                },
                {
                  "data": {"name": "notiz_usd"}, "transform": [{"filter": "datum.art == 'normal'"}],
                  "mark": {"type": "text", "align": "left", "baseline": "alphabetic", "fontSize": 27, "color": "#d0d0d0", "stroke": "#d0d0d0", "strokeWidth": 15, "strokeJoin": "round"},
                  "encoding": {
                    "x": {"field": "datum", "type": "temporal", "scale": {"type": "time", "domain": [{"year": 2017, "month": 1, "date": 1}, {"year": 2027, "month": 1, "date": 1}], "range": [92, 790], "nice": false}, "axis": null},
                    "y": {"field": "kurs", "type": "quantitative", "scale": {"type": "log", "domain": [0.9, 1.3], "range": [384.5, 83], "nice": false, "zero": false}, "axis": null},
                    "text": {"field": "text"}
                  }
                },
                {
                  "data": {"name": "notiz_usd"}, "transform": [{"filter": "datum.art == 'fett'"}],
                  "mark": {"type": "text", "align": "left", "baseline": "alphabetic", "fontSize": 27, "fontWeight": "bold", "color": "#d0d0d0", "stroke": "#d0d0d0", "strokeWidth": 15, "strokeJoin": "round"},
                  "encoding": {
                    "x": {"field": "datum", "type": "temporal", "scale": {"type": "time", "domain": [{"year": 2017, "month": 1, "date": 1}, {"year": 2027, "month": 1, "date": 1}], "range": [92, 790], "nice": false}, "axis": null},
                    "y": {"field": "kurs", "type": "quantitative", "scale": {"type": "log", "domain": [0.9, 1.3], "range": [384.5, 83], "nice": false, "zero": false}, "axis": null},
                    "text": {"field": "text"}
                  }
                },
                {
                  "data": {"name": "notiz_usd"}, "transform": [{"filter": "datum.art == 'normal'"}],
                  "mark": {"type": "text", "align": "left", "baseline": "alphabetic", "fontSize": 27, "color": "#1a1a1a"},
                  "encoding": {
                    "x": {"field": "datum", "type": "temporal", "scale": {"type": "time", "domain": [{"year": 2017, "month": 1, "date": 1}, {"year": 2027, "month": 1, "date": 1}], "range": [92, 790], "nice": false}, "axis": null},
                    "y": {"field": "kurs", "type": "quantitative", "scale": {"type": "log", "domain": [0.9, 1.3], "range": [384.5, 83], "nice": false, "zero": false}, "axis": null},
                    "text": {"field": "text"}
                  }
                },
                {
                  "data": {"name": "notiz_usd"}, "transform": [{"filter": "datum.art == 'fett'"}],
                  "mark": {"type": "text", "align": "left", "baseline": "alphabetic", "fontSize": 27, "fontWeight": "bold", "color": "#1a1a1a"},
                  "encoding": {
                    "x": {"field": "datum", "type": "temporal", "scale": {"type": "time", "domain": [{"year": 2017, "month": 1, "date": 1}, {"year": 2027, "month": 1, "date": 1}], "range": [92, 790], "nice": false}, "axis": null},
                    "y": {"field": "kurs", "type": "quantitative", "scale": {"type": "log", "domain": [0.9, 1.3], "range": [384.5, 83], "nice": false, "zero": false}, "axis": null},
                    "text": {"field": "text"}
                  }
                },
                {
                  "data": {"values": [{"datum": "2020-10-23", "kurs": 0.986, "datum2": "2021-05-26", "kurs2": 1.1734}]},
                  "mark": {"type": "rule", "color": "#1a1a1a", "strokeWidth": 1.3},
                  "encoding": {
                    "x": {"field": "datum", "type": "temporal", "scale": {"type": "time", "domain": [{"year": 2017, "month": 1, "date": 1}, {"year": 2027, "month": 1, "date": 1}], "range": [92, 790], "nice": false}, "axis": null},
                    "y": {"field": "kurs", "type": "quantitative", "scale": {"type": "log", "domain": [0.9, 1.3], "range": [384.5, 83], "nice": false, "zero": false}, "axis": null},
                    "x2": {"field": "datum2"}, "y2": {"field": "kurs2"}
                  }
                },
                {
                  "data": {"values": [{"datum": "2017-01-01", "bis": "2026-05-20", "kurs": 1.1789}]},
                  "mark": {"type": "rule", "color": "#5dc25d", "strokeWidth": 8},
                  "encoding": {
                    "x": {"field": "datum", "type": "temporal", "scale": {"type": "time", "domain": [{"year": 2017, "month": 1, "date": 1}, {"year": 2027, "month": 1, "date": 1}], "range": [92, 790], "nice": false}, "axis": null},
                    "y": {"field": "kurs", "type": "quantitative", "scale": {"type": "log", "domain": [0.9, 1.3], "range": [384.5, 83], "nice": false, "zero": false}, "axis": null},
                    "x2": {"field": "bis"}
                  }
                },
                {
                  "data": {"name": "usd"},
                  "mark": {"type": "line", "color": "#00a13a", "strokeWidth": 5, "strokeJoin": "round"},
                  "encoding": {
                    "x": {"field": "datum", "type": "temporal", "scale": {"type": "time", "domain": [{"year": 2017, "month": 1, "date": 1}, {"year": 2027, "month": 1, "date": 1}], "range": [92, 790], "nice": false}, "axis": null},
                    "y": {"field": "kurs", "type": "quantitative", "scale": {"type": "log", "domain": [0.9, 1.3], "range": [384.5, 83], "nice": false, "zero": false}, "axis": null}
                  }
                }
              ]
            },
            {
              "layer": [
                {
                  "data": {"name": "gitter_jpy"},
                  "mark": {"type": "rule", "color": "white", "strokeWidth": 4},
                  "encoding": {
                    "x": {"datum": {"year": 2017, "month": 1, "date": 1}, "type": "temporal", "scale": {"type": "time", "domain": [{"year": 2017, "month": 1, "date": 1}, {"year": 2027, "month": 1, "date": 1}], "range": [92, 790], "nice": false}, "axis": null},
                    "x2": {"datum": {"year": 2027, "month": 1, "date": 1}},
                    "y": {"field": "kurs", "type": "quantitative", "scale": {"type": "log", "domain": [110, 190], "range": [886, 437.8], "nice": false, "zero": false}, "axis": null}
                  }
                },
                {
                  "data": {"name": "gitter_jpy"},
                  "mark": {"type": "text", "align": "left", "baseline": "middle", "fontSize": 27, "color": "#1a1a1a"},
                  "encoding": {
                    "x": {"datum": {"year": 2027, "month": 5, "date": 1}, "type": "temporal", "scale": {"type": "time", "domain": [{"year": 2017, "month": 1, "date": 1}, {"year": 2027, "month": 1, "date": 1}], "range": [92, 790], "nice": false}, "axis": null},
                    "y": {"field": "kurs", "type": "quantitative", "scale": {"type": "log", "domain": [110, 190], "range": [886, 437.8], "nice": false, "zero": false}, "axis": null},
                    "text": {"field": "text"}
                  }
                },
                {
                  "data": {"name": "notiz_jpy"}, "transform": [{"filter": "datum.art == 'normal'"}],
                  "mark": {"type": "text", "align": "left", "baseline": "alphabetic", "fontSize": 27, "color": "#d0d0d0", "stroke": "#d0d0d0", "strokeWidth": 15, "strokeJoin": "round"},
                  "encoding": {
                    "x": {"field": "datum", "type": "temporal", "scale": {"type": "time", "domain": [{"year": 2017, "month": 1, "date": 1}, {"year": 2027, "month": 1, "date": 1}], "range": [92, 790], "nice": false}, "axis": null},
                    "y": {"field": "kurs", "type": "quantitative", "scale": {"type": "log", "domain": [110, 190], "range": [886, 437.8], "nice": false, "zero": false}, "axis": null},
                    "text": {"field": "text"}
                  }
                },
                {
                  "data": {"name": "notiz_jpy"}, "transform": [{"filter": "datum.art == 'fett'"}],
                  "mark": {"type": "text", "align": "left", "baseline": "alphabetic", "fontSize": 27, "fontWeight": "bold", "color": "#d0d0d0", "stroke": "#d0d0d0", "strokeWidth": 15, "strokeJoin": "round"},
                  "encoding": {
                    "x": {"field": "datum", "type": "temporal", "scale": {"type": "time", "domain": [{"year": 2017, "month": 1, "date": 1}, {"year": 2027, "month": 1, "date": 1}], "range": [92, 790], "nice": false}, "axis": null},
                    "y": {"field": "kurs", "type": "quantitative", "scale": {"type": "log", "domain": [110, 190], "range": [886, 437.8], "nice": false, "zero": false}, "axis": null},
                    "text": {"field": "text"}
                  }
                },
                {
                  "data": {"name": "notiz_jpy"}, "transform": [{"filter": "datum.art == 'normal'"}],
                  "mark": {"type": "text", "align": "left", "baseline": "alphabetic", "fontSize": 27, "color": "#1a1a1a"},
                  "encoding": {
                    "x": {"field": "datum", "type": "temporal", "scale": {"type": "time", "domain": [{"year": 2017, "month": 1, "date": 1}, {"year": 2027, "month": 1, "date": 1}], "range": [92, 790], "nice": false}, "axis": null},
                    "y": {"field": "kurs", "type": "quantitative", "scale": {"type": "log", "domain": [110, 190], "range": [886, 437.8], "nice": false, "zero": false}, "axis": null},
                    "text": {"field": "text"}
                  }
                },
                {
                  "data": {"name": "notiz_jpy"}, "transform": [{"filter": "datum.art == 'fett'"}],
                  "mark": {"type": "text", "align": "left", "baseline": "alphabetic", "fontSize": 27, "fontWeight": "bold", "color": "#1a1a1a"},
                  "encoding": {
                    "x": {"field": "datum", "type": "temporal", "scale": {"type": "time", "domain": [{"year": 2017, "month": 1, "date": 1}, {"year": 2027, "month": 1, "date": 1}], "range": [92, 790], "nice": false}, "axis": null},
                    "y": {"field": "kurs", "type": "quantitative", "scale": {"type": "log", "domain": [110, 190], "range": [886, 437.8], "nice": false, "zero": false}, "axis": null},
                    "text": {"field": "text"}
                  }
                },
                {
                  "data": {"values": [{"datum": "2019-05-14", "kurs": 138.06, "datum2": "2019-06-14", "kurs2": 134.19}]},
                  "mark": {"type": "rule", "color": "#1a1a1a", "strokeWidth": 1.3},
                  "encoding": {
                    "x": {"field": "datum", "type": "temporal", "scale": {"type": "time", "domain": [{"year": 2017, "month": 1, "date": 1}, {"year": 2027, "month": 1, "date": 1}], "range": [92, 790], "nice": false}, "axis": null},
                    "y": {"field": "kurs", "type": "quantitative", "scale": {"type": "log", "domain": [110, 190], "range": [886, 437.8], "nice": false, "zero": false}, "axis": null},
                    "x2": {"field": "datum2"}, "y2": {"field": "kurs2"}
                  }
                },
                {
                  "data": {"values": [{"datum": "2017-01-01", "bis": "2026-05-20", "kurs": 133.73}]},
                  "mark": {"type": "rule", "color": "#f36b5e", "strokeWidth": 8},
                  "encoding": {
                    "x": {"field": "datum", "type": "temporal", "scale": {"type": "time", "domain": [{"year": 2017, "month": 1, "date": 1}, {"year": 2027, "month": 1, "date": 1}], "range": [92, 790], "nice": false}, "axis": null},
                    "y": {"field": "kurs", "type": "quantitative", "scale": {"type": "log", "domain": [110, 190], "range": [886, 437.8], "nice": false, "zero": false}, "axis": null},
                    "x2": {"field": "bis"}
                  }
                },
                {
                  "data": {"name": "jpy"},
                  "mark": {"type": "line", "color": "#e3262a", "strokeWidth": 5, "strokeJoin": "round"},
                  "encoding": {
                    "x": {"field": "datum", "type": "temporal", "scale": {"type": "time", "domain": [{"year": 2017, "month": 1, "date": 1}, {"year": 2027, "month": 1, "date": 1}], "range": [92, 790], "nice": false}, "axis": null},
                    "y": {"field": "kurs", "type": "quantitative", "scale": {"type": "log", "domain": [110, 190], "range": [886, 437.8], "nice": false, "zero": false}, "axis": null}
                  }
                }
              ]
            }
          ]
        },
        {
          "width": 911,
          "height": 987,
          "view": {"fill": "#d0d0d0", "stroke": null},
          "resolve": {"scale": {"y": "independent"}},
          "layer": [
            {
              "layer": [
                {
                  "data": {"name": "gitter_gbp"},
                  "mark": {"type": "rule", "color": "white", "strokeWidth": 4},
                  "encoding": {
                    "x": {"datum": {"year": 2017, "month": 1, "date": 1}, "type": "temporal", "scale": {"type": "time", "domain": [{"year": 2017, "month": 1, "date": 1}, {"year": 2027, "month": 1, "date": 1}], "range": [112.5, 818], "nice": false}, "axis": null},
                    "x2": {"datum": {"year": 2027, "month": 1, "date": 1}},
                    "y": {"field": "kurs", "type": "quantitative", "scale": {"type": "log", "domain": [0.7, 0.95], "range": [300.6, 49.6], "nice": false, "zero": false}, "axis": null}
                  }
                },
                {
                  "data": {"values": [{"datum": "2021-01-01"}, {"datum": "2026-01-01"}]},
                  "mark": {"type": "rule", "color": "white", "strokeWidth": 4},
                  "encoding": {
                    "x": {"field": "datum", "type": "temporal", "scale": {"type": "time", "domain": [{"year": 2017, "month": 1, "date": 1}, {"year": 2027, "month": 1, "date": 1}], "range": [112.5, 818], "nice": false}, "axis": null},
                    "y": {"datum": 0.98478, "type": "quantitative", "scale": {"type": "log", "domain": [0.7, 0.95], "range": [300.6, 49.6], "nice": false, "zero": false}, "axis": null},
                    "y2": {"datum": 0.3335}
                  }
                },
                {
                  "data": {"name": "monate"},
                  "mark": {"type": "rule", "color": "white", "strokeWidth": 2},
                  "encoding": {
                    "x": {"field": "datum", "type": "temporal", "scale": {"type": "time", "domain": [{"year": 2017, "month": 1, "date": 1}, {"year": 2027, "month": 1, "date": 1}], "range": [112.5, 818], "nice": false}, "axis": null},
                    "y": {"datum": 0.333907, "type": "quantitative", "scale": {"type": "log", "domain": [0.7, 0.95], "range": [300.6, 49.6], "nice": false, "zero": false}, "axis": null},
                    "y2": {"datum": 0.328273}
                  }
                },
                {
                  "data": {"name": "quartale"},
                  "mark": {"type": "rule", "color": "white", "strokeWidth": 2},
                  "encoding": {
                    "x": {"field": "datum", "type": "temporal", "scale": {"type": "time", "domain": [{"year": 2017, "month": 1, "date": 1}, {"year": 2027, "month": 1, "date": 1}], "range": [112.5, 818], "nice": false}, "axis": null},
                    "y": {"datum": 0.333907, "type": "quantitative", "scale": {"type": "log", "domain": [0.7, 0.95], "range": [300.6, 49.6], "nice": false, "zero": false}, "axis": null},
                    "y2": {"datum": 0.324303}
                  }
                },
                {
                  "data": {"name": "jahre"},
                  "mark": {"type": "rule", "color": "white", "strokeWidth": 3.5},
                  "encoding": {
                    "x": {"field": "datum", "type": "temporal", "scale": {"type": "time", "domain": [{"year": 2017, "month": 1, "date": 1}, {"year": 2027, "month": 1, "date": 1}], "range": [112.5, 818], "nice": false}, "axis": null},
                    "y": {"datum": 0.333907, "type": "quantitative", "scale": {"type": "log", "domain": [0.7, 0.95], "range": [300.6, 49.6], "nice": false, "zero": false}, "axis": null},
                    "y2": {"datum": 0.310784}
                  }
                },
                {
                  "data": {"name": "gitter_gbp"},
                  "mark": {"type": "text", "align": "right", "baseline": "middle", "fontSize": 27, "color": "#1a1a1a"},
                  "encoding": {
                    "x": {"datum": {"year": 2016, "month": 9, "date": 30}, "type": "temporal", "scale": {"type": "time", "domain": [{"year": 2017, "month": 1, "date": 1}, {"year": 2027, "month": 1, "date": 1}], "range": [112.5, 818], "nice": false}, "axis": null},
                    "y": {"field": "kurs", "type": "quantitative", "scale": {"type": "log", "domain": [0.7, 0.95], "range": [300.6, 49.6], "nice": false, "zero": false}, "axis": null},
                    "text": {"field": "text"}
                  }
                },
                {
                  "data": {"name": "jahrlabels"},
                  "mark": {"type": "text", "align": "center", "baseline": "alphabetic", "fontSize": 27, "color": "#1a1a1a"},
                  "encoding": {
                    "x": {"field": "datum", "type": "temporal", "scale": {"type": "time", "domain": [{"year": 2017, "month": 1, "date": 1}, {"year": 2027, "month": 1, "date": 1}], "range": [112.5, 818], "nice": false}, "axis": null},
                    "y": {"datum": 0.310784, "type": "quantitative", "scale": {"type": "log", "domain": [0.7, 0.95], "range": [300.6, 49.6], "nice": false, "zero": false}, "axis": null},
                    "text": {"field": "text"}
                  }
                },
                {
                  "data": {"name": "notiz_gbp"}, "transform": [{"filter": "datum.art == 'normal'"}],
                  "mark": {"type": "text", "align": "left", "baseline": "alphabetic", "fontSize": 27, "color": "#d0d0d0", "stroke": "#d0d0d0", "strokeWidth": 15, "strokeJoin": "round"},
                  "encoding": {
                    "x": {"field": "datum", "type": "temporal", "scale": {"type": "time", "domain": [{"year": 2017, "month": 1, "date": 1}, {"year": 2027, "month": 1, "date": 1}], "range": [112.5, 818], "nice": false}, "axis": null},
                    "y": {"field": "kurs", "type": "quantitative", "scale": {"type": "log", "domain": [0.7, 0.95], "range": [300.6, 49.6], "nice": false, "zero": false}, "axis": null},
                    "text": {"field": "text"}
                  }
                },
                {
                  "data": {"name": "notiz_gbp"}, "transform": [{"filter": "datum.art == 'fett'"}],
                  "mark": {"type": "text", "align": "left", "baseline": "alphabetic", "fontSize": 27, "fontWeight": "bold", "color": "#d0d0d0", "stroke": "#d0d0d0", "strokeWidth": 15, "strokeJoin": "round"},
                  "encoding": {
                    "x": {"field": "datum", "type": "temporal", "scale": {"type": "time", "domain": [{"year": 2017, "month": 1, "date": 1}, {"year": 2027, "month": 1, "date": 1}], "range": [112.5, 818], "nice": false}, "axis": null},
                    "y": {"field": "kurs", "type": "quantitative", "scale": {"type": "log", "domain": [0.7, 0.95], "range": [300.6, 49.6], "nice": false, "zero": false}, "axis": null},
                    "text": {"field": "text"}
                  }
                },
                {
                  "data": {"name": "notiz_gbp"}, "transform": [{"filter": "datum.art == 'normal'"}],
                  "mark": {"type": "text", "align": "left", "baseline": "alphabetic", "fontSize": 27, "color": "#1a1a1a"},
                  "encoding": {
                    "x": {"field": "datum", "type": "temporal", "scale": {"type": "time", "domain": [{"year": 2017, "month": 1, "date": 1}, {"year": 2027, "month": 1, "date": 1}], "range": [112.5, 818], "nice": false}, "axis": null},
                    "y": {"field": "kurs", "type": "quantitative", "scale": {"type": "log", "domain": [0.7, 0.95], "range": [300.6, 49.6], "nice": false, "zero": false}, "axis": null},
                    "text": {"field": "text"}
                  }
                },
                {
                  "data": {"name": "notiz_gbp"}, "transform": [{"filter": "datum.art == 'fett'"}],
                  "mark": {"type": "text", "align": "left", "baseline": "alphabetic", "fontSize": 27, "fontWeight": "bold", "color": "#1a1a1a"},
                  "encoding": {
                    "x": {"field": "datum", "type": "temporal", "scale": {"type": "time", "domain": [{"year": 2017, "month": 1, "date": 1}, {"year": 2027, "month": 1, "date": 1}], "range": [112.5, 818], "nice": false}, "axis": null},
                    "y": {"field": "kurs", "type": "quantitative", "scale": {"type": "log", "domain": [0.7, 0.95], "range": [300.6, 49.6], "nice": false, "zero": false}, "axis": null},
                    "text": {"field": "text"}
                  }
                },
                {
                  "data": {"values": [{"datum": "2017-01-01", "bis": "2026-05-22", "kurs": 0.7111}]},
                  "mark": {"type": "rule", "color": "#52b6ba", "strokeWidth": 8},
                  "encoding": {
                    "x": {"field": "datum", "type": "temporal", "scale": {"type": "time", "domain": [{"year": 2017, "month": 1, "date": 1}, {"year": 2027, "month": 1, "date": 1}], "range": [112.5, 818], "nice": false}, "axis": null},
                    "y": {"field": "kurs", "type": "quantitative", "scale": {"type": "log", "domain": [0.7, 0.95], "range": [300.6, 49.6], "nice": false, "zero": false}, "axis": null},
                    "x2": {"field": "bis"}
                  }
                },
                {
                  "data": {"name": "gbp"},
                  "mark": {"type": "line", "color": "#0097a5", "strokeWidth": 5, "strokeJoin": "round"},
                  "encoding": {
                    "x": {"field": "datum", "type": "temporal", "scale": {"type": "time", "domain": [{"year": 2017, "month": 1, "date": 1}, {"year": 2027, "month": 1, "date": 1}], "range": [112.5, 818], "nice": false}, "axis": null},
                    "y": {"field": "kurs", "type": "quantitative", "scale": {"type": "log", "domain": [0.7, 0.95], "range": [300.6, 49.6], "nice": false, "zero": false}, "axis": null}
                  }
                }
              ]
            },
            {
              "layer": [
                {
                  "data": {"name": "gitter_chf"},
                  "mark": {"type": "rule", "color": "white", "strokeWidth": 4},
                  "encoding": {
                    "x": {"datum": {"year": 2017, "month": 1, "date": 1}, "type": "temporal", "scale": {"type": "time", "domain": [{"year": 2017, "month": 1, "date": 1}, {"year": 2027, "month": 1, "date": 1}], "range": [112.5, 818], "nice": false}, "axis": null},
                    "x2": {"datum": {"year": 2027, "month": 1, "date": 1}},
                    "y": {"field": "kurs", "type": "quantitative", "scale": {"type": "log", "domain": [0.9, 1.7], "range": [881.5, 358.7], "nice": false, "zero": false}, "axis": null}
                  }
                },
                {
                  "data": {"name": "gitter_chf"},
                  "mark": {"type": "text", "align": "left", "baseline": "middle", "fontSize": 27, "color": "#1a1a1a"},
                  "encoding": {
                    "x": {"datum": {"year": 2027, "month": 4, "date": 3}, "type": "temporal", "scale": {"type": "time", "domain": [{"year": 2017, "month": 1, "date": 1}, {"year": 2027, "month": 1, "date": 1}], "range": [112.5, 818], "nice": false}, "axis": null},
                    "y": {"field": "kurs", "type": "quantitative", "scale": {"type": "log", "domain": [0.9, 1.7], "range": [881.5, 358.7], "nice": false, "zero": false}, "axis": null},
                    "text": {"field": "text"}
                  }
                },
                {
                  "data": {"name": "notiz_chf"}, "transform": [{"filter": "datum.art == 'normal'"}],
                  "mark": {"type": "text", "align": "left", "baseline": "alphabetic", "fontSize": 27, "color": "#d0d0d0", "stroke": "#d0d0d0", "strokeWidth": 15, "strokeJoin": "round"},
                  "encoding": {
                    "x": {"field": "datum", "type": "temporal", "scale": {"type": "time", "domain": [{"year": 2017, "month": 1, "date": 1}, {"year": 2027, "month": 1, "date": 1}], "range": [112.5, 818], "nice": false}, "axis": null},
                    "y": {"field": "kurs", "type": "quantitative", "scale": {"type": "log", "domain": [0.9, 1.7], "range": [881.5, 358.7], "nice": false, "zero": false}, "axis": null},
                    "text": {"field": "text"}
                  }
                },
                {
                  "data": {"name": "notiz_chf"}, "transform": [{"filter": "datum.art == 'fett'"}],
                  "mark": {"type": "text", "align": "left", "baseline": "alphabetic", "fontSize": 27, "fontWeight": "bold", "color": "#d0d0d0", "stroke": "#d0d0d0", "strokeWidth": 15, "strokeJoin": "round"},
                  "encoding": {
                    "x": {"field": "datum", "type": "temporal", "scale": {"type": "time", "domain": [{"year": 2017, "month": 1, "date": 1}, {"year": 2027, "month": 1, "date": 1}], "range": [112.5, 818], "nice": false}, "axis": null},
                    "y": {"field": "kurs", "type": "quantitative", "scale": {"type": "log", "domain": [0.9, 1.7], "range": [881.5, 358.7], "nice": false, "zero": false}, "axis": null},
                    "text": {"field": "text"}
                  }
                },
                {
                  "data": {"name": "notiz_chf"}, "transform": [{"filter": "datum.art == 'normal'"}],
                  "mark": {"type": "text", "align": "left", "baseline": "alphabetic", "fontSize": 27, "color": "#1a1a1a"},
                  "encoding": {
                    "x": {"field": "datum", "type": "temporal", "scale": {"type": "time", "domain": [{"year": 2017, "month": 1, "date": 1}, {"year": 2027, "month": 1, "date": 1}], "range": [112.5, 818], "nice": false}, "axis": null},
                    "y": {"field": "kurs", "type": "quantitative", "scale": {"type": "log", "domain": [0.9, 1.7], "range": [881.5, 358.7], "nice": false, "zero": false}, "axis": null},
                    "text": {"field": "text"}
                  }
                },
                {
                  "data": {"name": "notiz_chf"}, "transform": [{"filter": "datum.art == 'fett'"}],
                  "mark": {"type": "text", "align": "left", "baseline": "alphabetic", "fontSize": 27, "fontWeight": "bold", "color": "#1a1a1a"},
                  "encoding": {
                    "x": {"field": "datum", "type": "temporal", "scale": {"type": "time", "domain": [{"year": 2017, "month": 1, "date": 1}, {"year": 2027, "month": 1, "date": 1}], "range": [112.5, 818], "nice": false}, "axis": null},
                    "y": {"field": "kurs", "type": "quantitative", "scale": {"type": "log", "domain": [0.9, 1.7], "range": [881.5, 358.7], "nice": false, "zero": false}, "axis": null},
                    "text": {"field": "text"}
                  }
                },
                {
                  "data": {"values": [{"datum": "2017-01-01", "bis": "2026-05-22", "kurs": 1.6168}]},
                  "mark": {"type": "rule", "color": "#ad64d9", "strokeWidth": 8},
                  "encoding": {
                    "x": {"field": "datum", "type": "temporal", "scale": {"type": "time", "domain": [{"year": 2017, "month": 1, "date": 1}, {"year": 2027, "month": 1, "date": 1}], "range": [112.5, 818], "nice": false}, "axis": null},
                    "y": {"field": "kurs", "type": "quantitative", "scale": {"type": "log", "domain": [0.9, 1.7], "range": [881.5, 358.7], "nice": false, "zero": false}, "axis": null},
                    "x2": {"field": "bis"}
                  }
                },
                {
                  "data": {"name": "chf"},
                  "mark": {"type": "line", "color": "#7b2cb4", "strokeWidth": 5, "strokeJoin": "round"},
                  "encoding": {
                    "x": {"field": "datum", "type": "temporal", "scale": {"type": "time", "domain": [{"year": 2017, "month": 1, "date": 1}, {"year": 2027, "month": 1, "date": 1}], "range": [112.5, 818], "nice": false}, "axis": null},
                    "y": {"field": "kurs", "type": "quantitative", "scale": {"type": "log", "domain": [0.9, 1.7], "range": [881.5, 358.7], "nice": false, "zero": false}, "axis": null}
                  }
                }
              ]
            }
          ]
        }
      ],
      "spacing": 8,
      "bounds": "flush"
    },
    {
      "hconcat": [
        {
          "width": 1560,
          "height": 141,
          "view": {"fill": "#ebebeb", "stroke": null},
          "data": {"values": [{}]},
          "mark": {"type": "text", "text": ""},
          "title": {
            "text": ["1 Kurs zu Beginn der dritten Stufe der Europäischen Wirtschafts- und Währungsunion am 4. Januar 1999.", "Weitere aktuelle Informationen in den Monatsberichten der Deutschen Bundesbank im Februar, Mai, August und November."],
            "subtitle": "Deutsche Bundesbank",
            "anchor": "start", "frame": "group", "orient": "top",
            "offset": -120.7, "dx": 24,
            "fontSize": 27, "fontWeight": "normal", "lineHeight": 33, "color": "#1a1a1a",
            "subtitleFontSize": 27, "subtitleColor": "#1a1a1a", "subtitlePadding": 15
          }
        },
        {
          "width": 259,
          "height": 141,
          "view": {"fill": "#ebebeb", "stroke": null},
          "data": {"values": [{}]},
          "mark": {"type": "text", "text": ""},
          "title": {
            "text": "21. Mai 2026",
            "anchor": "end", "frame": "group", "orient": "top",
            "offset": -120.7, "dx": -26,
            "fontSize": 27, "fontWeight": "normal", "color": "#1a1a1a"
          }
        }
      ],
      "spacing": 0,
      "bounds": "flush"
    }
  ]
}
